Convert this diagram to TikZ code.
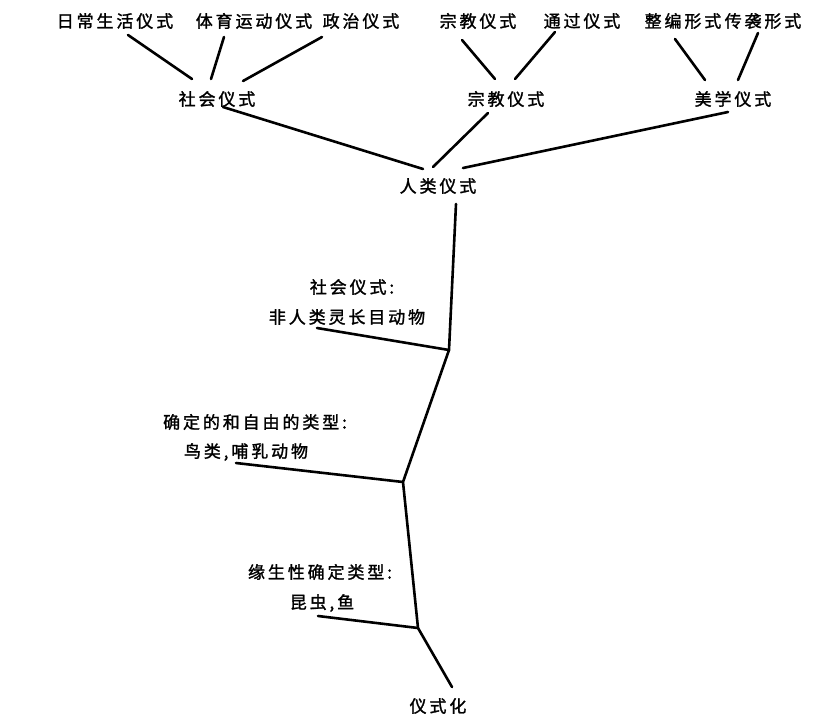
\documentclass[tikz,border=0pt]{standalone}
\usepackage{fontspec}
\newfontfamily\cjk[LetterSpace=17,BoldFont=*,BoldFeatures={FakeBold=1.5}]{Noto Sans CJK SC}
\tikzset{
  lbl/.style={font=\cjk\bfseries\fontsize{17}{17}\selectfont, inner sep=0pt, anchor=center},
  br/.style={line width=2.6pt, line cap=round, line join=round}
}
\begin{document}
\begin{tikzpicture}[x=1pt,y=-1pt]
\useasboundingbox (0,0) rectangle (814,714);
% labels
\node[lbl] (t1) at (115,21) {日常生活仪式};
\node[lbl] (t2) at (254,21) {体育运动仪式};
\node[lbl] (t3) at (361,21) {政治仪式};
\node[lbl] (t4) at (478,21) {宗教仪式};
\node[lbl] (t5) at (582,21) {通过仪式};
\node[lbl] (t6) at (683,21) {整编形式};
\node[lbl] (t7) at (763,21) {传袭形式};
\node[lbl] (m1) at (217,99) {社会仪式};
\node[lbl] (m2) at (506,99) {宗教仪式};
\node[lbl] (m3) at (733,99) {美学仪式};
\node[lbl] (h) at (438,186) {人类仪式};
\node[lbl] (l1) at (352,287) {社会仪式:};
\node[lbl] (l1b) at (347,317) {非人类灵长目动物};
\node[lbl] (l2) at (255,422) {确定的和自由的类型:};
\node[lbl] (l2b) at (246,452) {鸟类,哺乳动物};
\node[lbl] (l3) at (320,572) {缘生性确定类型:};
\node[lbl] (l3b) at (322,603) {昆虫,鱼};
\node[lbl] (bot) at (438,706) {仪式化};
% connector end points
\coordinate (t1e) at (128,35);  \coordinate (m1a) at (192,79);
\coordinate (t2e) at (224,37);  \coordinate (m1b) at (211,79);
\coordinate (t3e) at (322,37);  \coordinate (m1c) at (243,81);
\coordinate (t4e) at (462,40);  \coordinate (m2a) at (495,79);
\coordinate (t5e) at (555,32);  \coordinate (m2b) at (515,79);
\coordinate (t6e) at (675,39);  \coordinate (m3a) at (705,80);
\coordinate (t7e) at (758,33);  \coordinate (m3b) at (738,80);
\coordinate (m1e) at (223,107); \coordinate (ha) at (423,169);
\coordinate (m2e) at (488,113); \coordinate (hb) at (433,167);
\coordinate (m3e) at (728,112); \coordinate (hc) at (463,168);
\coordinate (hd) at (456,204);
\coordinate (j1) at (449,350);
\coordinate (j2) at (403,482);
\coordinate (j3) at (418,628);
\coordinate (be) at (452,687);
\coordinate (l1e) at (317,328);
\coordinate (l2e) at (236,463);
\coordinate (l3e) at (318,616);
% connectors
\draw[br] (t1e) -- (m1a);
\draw[br] (t2e) -- (m1b);
\draw[br] (t3e) -- (m1c);
\draw[br] (t4e) -- (m2a);
\draw[br] (t5e) -- (m2b);
\draw[br] (t6e) -- (m3a);
\draw[br] (t7e) -- (m3b);
\draw[br] (m1e) -- (ha);
\draw[br] (m2e) -- (hb);
\draw[br] (m3e) -- (hc);
\draw[br] (hd) -- (j1) -- (j2) -- (j3) -- (be);
\draw[br] (l1e) -- (j1);
\draw[br] (l2e) -- (j2);
\draw[br] (l3e) -- (j3);
\end{tikzpicture}
\end{document}
